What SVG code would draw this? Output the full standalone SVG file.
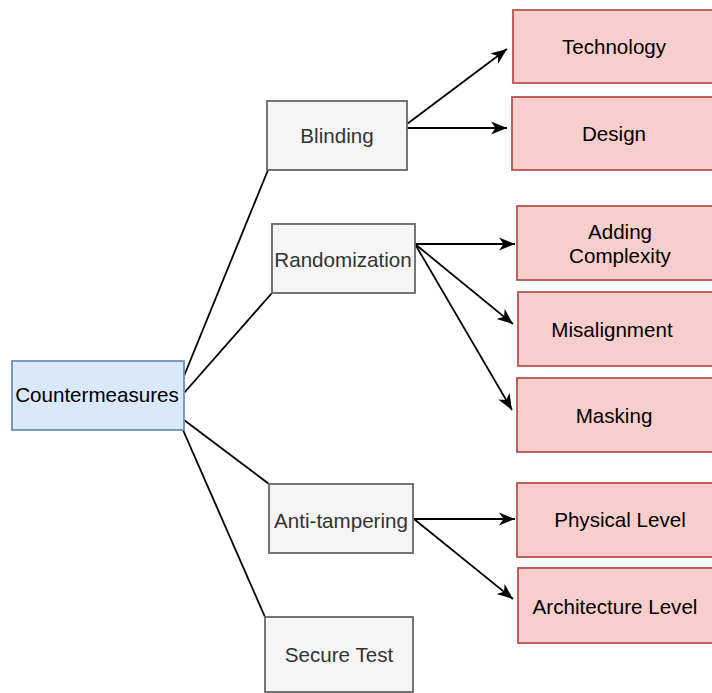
<svg xmlns="http://www.w3.org/2000/svg" width="712" height="693" viewBox="0 0 712 693">
  <defs>
    <marker id="arrow" markerUnits="userSpaceOnUse" markerWidth="17" markerHeight="14" refX="16" refY="7" orient="auto">
      <path d="M0,0.5 L16,7 L0,13.5 L4.5,7 Z" fill="#000"/>
    </marker>
  </defs>
  <style>
    text { font-family: "Liberation Sans", Arial, Helvetica, sans-serif; font-size: 20.6px; text-anchor: middle; }
    .root rect { fill: #dae8fc; stroke: #6c8ebf; stroke-width: 1.8; }
    .root text { fill: #000; }
    .mid rect { fill: #f5f5f5; stroke: #666666; stroke-width: 1.8; }
    .mid text { fill: #333333; }
    .leaf rect { fill: #f8cecc; stroke: #b85450; stroke-width: 1.8; }
    .leaf text { fill: #000; }
    .edge { fill: none; stroke: #000; stroke-width: 1.8; }
    .edge.arrow { marker-end: url(#arrow); }
  </style>

  <!-- connectors -->
  <g id="connectors">
    <line class="edge" x1="184" y1="376" x2="268" y2="170"/>
    <line class="edge" x1="184" y1="393" x2="272" y2="293"/>
    <line class="edge" x1="184" y1="420" x2="269" y2="484"/>
    <line class="edge" x1="183" y1="430" x2="265" y2="617"/>

    <line class="edge arrow" x1="407" y1="124" x2="507" y2="49"/>
    <line class="edge arrow" x1="407" y1="128" x2="507" y2="128"/>

    <line class="edge arrow" x1="415" y1="244" x2="515" y2="244"/>
    <line class="edge arrow" x1="415" y1="244" x2="513" y2="324"/>
    <line class="edge arrow" x1="415" y1="244" x2="512" y2="410"/>

    <line class="edge arrow" x1="414" y1="519" x2="515" y2="519"/>
    <line class="edge arrow" x1="414" y1="519" x2="513" y2="599"/>
  </g>

  <!-- root -->
  <g id="countermeasures" class="root">
    <rect x="12" y="361" width="172" height="69"/>
    <text x="97" y="402">Countermeasures</text>
  </g>

  <!-- categories -->
  <g id="blinding" class="mid">
    <rect x="267" y="101" width="140" height="69"/>
    <text x="337" y="143">Blinding</text>
  </g>
  <g id="randomization" class="mid">
    <rect x="272" y="224" width="143" height="69"/>
    <text x="343" y="267">Randomization</text>
  </g>
  <g id="anti-tampering" class="mid">
    <rect x="269" y="484" width="144" height="69"/>
    <text x="341" y="528">Anti-tampering</text>
  </g>
  <g id="secure-test" class="mid">
    <rect x="265" y="617" width="148" height="75"/>
    <text x="339" y="662">Secure Test</text>
  </g>

  <!-- techniques -->
  <g id="technology" class="leaf">
    <rect x="513" y="10" width="210" height="73"/>
    <text x="614" y="54">Technology</text>
  </g>
  <g id="design" class="leaf">
    <rect x="512" y="97" width="210" height="73"/>
    <text x="614" y="141">Design</text>
  </g>
  <g id="adding-complexity" class="leaf">
    <rect x="517" y="206" width="210" height="74"/>
    <text x="620" y="239">Adding</text>
    <text x="620" y="263">Complexity</text>
  </g>
  <g id="misalignment" class="leaf">
    <rect x="518" y="292" width="210" height="74"/>
    <text x="612" y="337">Misalignment</text>
  </g>
  <g id="masking" class="leaf">
    <rect x="517" y="378" width="210" height="74"/>
    <text x="614" y="423">Masking</text>
  </g>
  <g id="physical-level" class="leaf">
    <rect x="517" y="483" width="210" height="74"/>
    <text x="620" y="527">Physical Level</text>
  </g>
  <g id="architecture-level" class="leaf">
    <rect x="518" y="568" width="210" height="75"/>
    <text x="615" y="614">Architecture Level</text>
  </g>
</svg>
